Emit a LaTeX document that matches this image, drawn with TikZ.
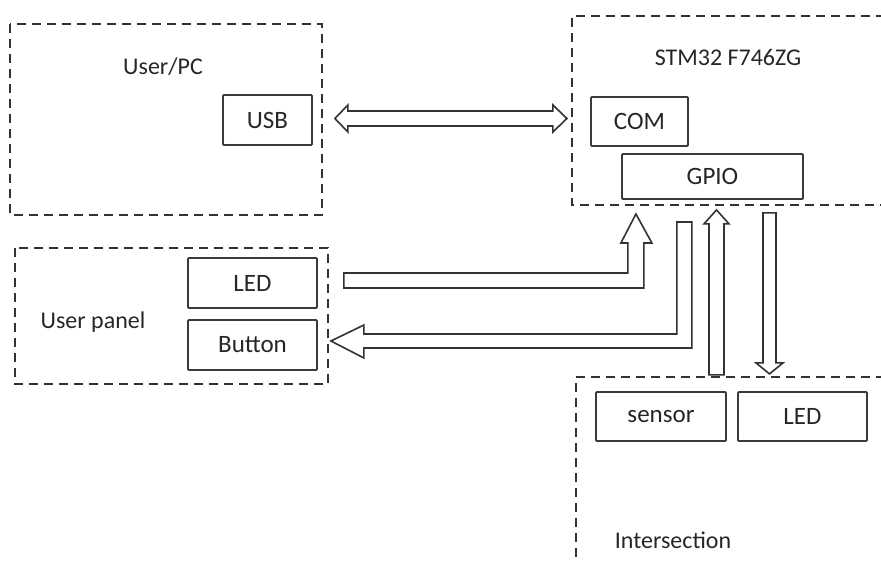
\documentclass[tikz,border=0pt]{standalone}
\usepackage{fontspec}
\setmainfont{Carlito}
\usetikzlibrary{calc}
\definecolor{txt}{HTML}{262626}
\definecolor{ln}{HTML}{3A3A3A}
\definecolor{dsh}{HTML}{333333}
\begin{document}
\begin{tikzpicture}[x=1pt,y=-1pt,
  blk/.style={draw=ln, line width=1.8pt, rounded corners=1pt, inner sep=0pt, text=txt,
    font=\fontsize{25}{30}\selectfont},
  captxt/.style={inner sep=0pt, text=txt, font=\fontsize{24}{29}\selectfont},
  grp/.style={draw=dsh, line width=2.8pt, dash pattern=on 9pt off 6pt},
  blockarrow/.style={draw=black!80, line width=1.6pt, fill=white, line join=miter}]
\useasboundingbox (0,0) rectangle (881,562);
\clip (0,0) rectangle (881,562);
% groups
\draw[grp] (10,24) rectangle (322,215);
\draw[grp] (885,16) -- (572,16) -- (572,205) -- (885,205);
\draw[grp] (15,248) rectangle (328,384);
\draw[grp] (885,377) -- (576,377) -- (576,570);
% captions
\node[captxt] (cpc) at (163,67) {User/PC};
\node[captxt] (cstm) at (728,57) {STM32 F746ZG};
\node[captxt] (cpanel) at (93,322) {User panel};
\node[captxt] (cint) at (673,540) {Intersection};
% blocks
\node[blk, minimum width=89pt, minimum height=50pt] (usb) at (267.5,120) {USB};
\node[blk, minimum width=97pt, minimum height=49pt] (com) at (639.5,121.5) {COM};
\node[blk, minimum width=181pt, minimum height=45pt] (gpio) at (712.5,176.5) {GPIO};
\node[blk, minimum width=129pt, minimum height=50pt] (led1) at (252.5,283) {LED};
\node[blk, minimum width=129pt, minimum height=50pt] (button) at (252.5,345) {Button};
\node[blk, minimum width=130pt, minimum height=49pt] (sensor) at (661,416.5) {sensor};
\node[blk, minimum width=129pt, minimum height=49pt] (led2) at (802.5,416.5) {LED};
% connector anchors
\coordinate (a5) at ($(usb.east)+(22,-1.5)$);
\coordinate (a1) at ($(led1.east)+(26,-10)$);
\coordinate (a2) at ($(button.east)+(13,-4)$);
\coordinate (a3) at ($(gpio.south)+(4,10)$);
\coordinate (a4) at ($(gpio.south)+(50.5,13)$);
% USB <-> COM
\draw[blockarrow] (a5) -- ++(13,-13.5) -- ++(0,6) -- ++(205,0) -- ++(0,-6) -- ++(14,13.5)
  -- ++(-14,13.5) -- ++(0,-6) -- ++(-205,0) -- ++(0,6) -- cycle;
% LED -> GPIO
\draw[blockarrow] (a1) -- ++(284,0) -- ++(0,-30) -- ++(-7,0) -- ++(15,-29) -- ++(16,29)
  -- ++(-8,0) -- ++(0,45) -- ++(-300,0) -- cycle;
% GPIO -> Button
\draw[blockarrow] (a2) -- ++(33,-16) -- ++(0,9) -- ++(313,0) -- ++(0,-112) -- ++(15,0)
  -- ++(0,126) -- ++(-328,0) -- ++(0,10) -- cycle;
% sensor -> GPIO
\draw[blockarrow] (a3) -- ++(12.5,14) -- ++(-5,0) -- ++(0,151) -- ++(-15,0) -- ++(0,-151)
  -- ++(-5,0) -- cycle;
% GPIO -> LED
\draw[blockarrow] (a4) -- ++(13,0) -- ++(0,150) -- ++(7,0) -- ++(-13.5,11) -- ++(-13.5,-11)
  -- ++(7,0) -- cycle;
\end{tikzpicture}
\end{document}
